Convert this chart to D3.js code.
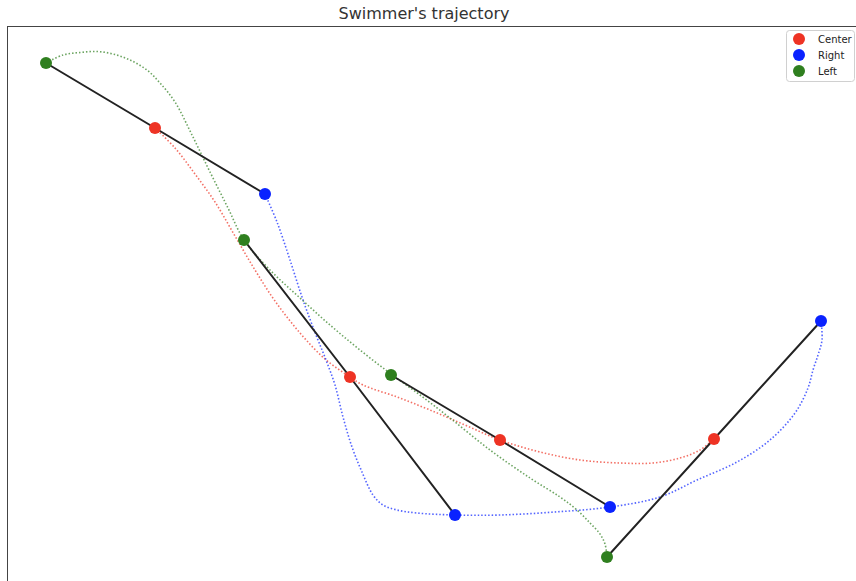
<!DOCTYPE html>
<html>
<head>
<meta charset="utf-8">
<script src="https://cdn.jsdelivr.net/npm/d3@7"></script>
<style>
  body { margin: 0; background: #fff; }
  svg { display: block; font-family: "DejaVu Sans", sans-serif; }
</style>
</head>
<body>
<div id="chart"></div>
<script>

var W = 856, H = 581
var margin = { top: 26, left: 7 }
var R = 6

// marker positions per time step (metres)
var centerX = [1.48, 3.43, 4.93, 7.07]
var centerY = [4.58, 2.09, 1.46, 1.47]
var rightX = [2.58, 4.48, 6.03, 8.14]
var rightY = [3.92, 0.71, 0.79, 2.65]
var leftX = [0.39, 2.37, 3.84, 6.00]
var leftY = [5.23, 3.46, 2.11, 0.29]

// sampled trajectories (dotted)
var centerPathX = [1.48, 1.68, 1.88, 2.08, 2.28, 2.48, 2.68, 2.93, 3.18, 3.43, 3.56, 3.90, 4.23, 4.58, 4.93, 5.33, 5.73, 6.13, 6.46, 6.73, 6.93, 7.07]
var centerPathY = [4.58, 4.38, 4.12, 3.84, 3.50, 3.16, 2.85, 2.53, 2.27, 2.09, 2.01, 1.89, 1.76, 1.61, 1.46, 1.34, 1.26, 1.23, 1.23, 1.28, 1.36, 1.47]
var rightPathX = [2.58, 2.70, 2.83, 2.96, 3.09, 3.19, 3.28, 3.36, 3.45, 3.55, 3.66, 3.76, 3.90, 4.10, 4.48, 4.93, 5.48, 6.03, 6.53, 6.90, 7.30, 7.63, 7.88, 8.01, 8.06, 8.11, 8.15, 8.14]
var rightPathY = [3.92, 3.64, 3.26, 2.86, 2.51, 2.26, 2.01, 1.69, 1.39, 1.14, 0.91, 0.81, 0.76, 0.73, 0.71, 0.71, 0.74, 0.79, 0.89, 1.06, 1.24, 1.46, 1.73, 1.98, 2.16, 2.31, 2.46, 2.65]
var leftPathX = [0.39, 0.56, 0.73, 0.90, 1.06, 1.23, 1.40, 1.53, 1.68, 1.85, 2.03, 2.21, 2.37, 2.63, 2.93, 3.23, 3.53, 3.84, 4.13, 4.43, 4.83, 5.23, 5.53, 5.70, 5.83, 5.93, 5.98, 6.00]
var leftPathY = [5.23, 5.31, 5.335, 5.345, 5.32, 5.26, 5.16, 5.03, 4.84, 4.51, 4.14, 3.78, 3.46, 3.16, 2.88, 2.61, 2.36, 2.12, 1.91, 1.68, 1.36, 1.08, 0.89, 0.76, 0.63, 0.52, 0.42, 0.29]

var names = ["Center", "Right", "Left"]
var color = d3.scaleOrdinal()
  .domain(names)
  .range(["#ee3324", "#0a22ff", "#2f7f1f"])

var x = d3.scaleLinear().domain([0, 8.5]).range([margin.left, margin.left + 850])
var y = d3.scaleLinear().domain([0, 5.6]).range([margin.top + 560, margin.top])

var svg = d3.select("#chart").append("svg")
  .attr("width", W)
  .attr("height", H)

svg.append("text")
  .attr("x", 424)
  .attr("y", 19)
  .attr("text-anchor", "middle")
  .attr("font-size", 16)
  .attr("fill", "#333")
  .text("Swimmer's trajectory")

var zip = (xs, ys) => xs.map((v, i) => [v, ys[i]])

var paths = [
  { name: "Center", pts: zip(centerPathX, centerPathY) },
  { name: "Right", pts: zip(rightPathX, rightPathY) },
  { name: "Left", pts: zip(leftPathX, leftPathY) }
]

var line = d3.line()
  .x(d => x(d[0]))
  .y(d => y(d[1]))
  .curve(d3.curveCatmullRom.alpha(0.5))

svg.selectAll(".traj")
  .data(paths)
  .enter().append("path")
  .attr("class", "traj")
  .attr("d", d => line(d.pts))
  .attr("fill", "none")
  .attr("stroke", d => color(d.name))
  .attr("stroke-width", 1.6)
  .attr("stroke-opacity", 0.7)
  .attr("stroke-dasharray", "1.5,2")

// body segments left - center - right at each step
var segs = centerX.map((c, i) => [[leftX[i], leftY[i]], [c, centerY[i]], [rightX[i], rightY[i]]])

svg.selectAll(".seg")
  .data(segs)
  .enter().append("path")
  .attr("class", "seg")
  .attr("d", d3.line().x(d => x(d[0])).y(d => y(d[1])))
  .attr("fill", "none")
  .attr("stroke", "#222")
  .attr("stroke-width", 2)

var dots = [
  { name: "Center", pts: zip(centerX, centerY) },
  { name: "Right", pts: zip(rightX, rightY) },
  { name: "Left", pts: zip(leftX, leftY) }
]

dots.forEach(function (s) {
  svg.selectAll(".dot-" + s.name)
    .data(s.pts)
    .enter().append("circle")
    .attr("cx", d => x(d[0]))
    .attr("cy", d => y(d[1]))
    .attr("r", R)
    .style("fill", color(s.name))
})

// frame (right and bottom spines fall outside the view)
svg.append("rect")
  .attr("x", margin.left + 0.5)
  .attr("y", margin.top + 0.5)
  .attr("width", 900)
  .attr("height", 600)
  .attr("fill", "none")
  .attr("stroke", "#444")
  .attr("stroke-width", 1)

var legendG = svg.append("g")
  .attr("transform", "translate(786,30)")

legendG.append("rect")
  .attr("x", 0.5)
  .attr("y", 0.5)
  .attr("width", 68)
  .attr("height", 51)
  .attr("rx", 3)
  .attr("fill", "#fff")
  .attr("fill-opacity", 0.8)
  .attr("stroke", "#d0d0d0")

var legend = legendG.selectAll(".legend")
  .data(names)
  .enter().append("g")
  .attr("class", "legend")
  .attr("transform", (d, i) => "translate(0," + (9 + i * 16) + ")")

legend.append("circle")
  .attr("cx", 13)
  .attr("cy", 0)
  .attr("r", R)
  .style("fill", d => color(d))

legend.append("text")
  .attr("x", 32)
  .attr("y", 4)
  .attr("font-size", 10)
  .attr("fill", "#222")
  .text(d => d)
</script>
</body>
</html>
